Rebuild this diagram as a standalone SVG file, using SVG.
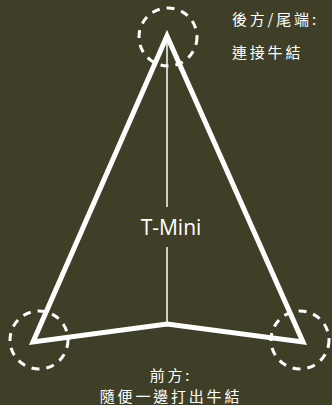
<svg xmlns="http://www.w3.org/2000/svg" width="332" height="405" viewBox="0 0 332 405">
<style>
.bg{fill:#3f3f28}
.kite{fill:none;stroke:#fff;stroke-width:5;stroke-linejoin:miter}
.spine{stroke:#fff;stroke-width:1.5}
.ring{fill:none;stroke:#fff;stroke-width:3;stroke-dasharray:8 7}
.cjk{fill:#fff;font-family:"Noto Sans CJK TC","Noto Sans CJK SC",sans-serif;font-size:15px;letter-spacing:2.8px}
.lbl{fill:#fff;font-family:"Open Sans","Noto Sans",sans-serif;font-size:21px}
</style>
<rect class="bg" width="332" height="405"/>
<g id="connectors">
<line class="spine" x1="167" y1="36" x2="167" y2="207"/>
<line class="spine" x1="167" y1="247" x2="167" y2="324"/>
</g>
<g id="kite">
<polygon class="kite" points="167,36 303,342 167,324 33,342"/>
</g>
<g id="ring-top"><circle class="ring" cx="168" cy="37" r="29"/></g>
<g id="ring-left"><circle class="ring" cx="39" cy="340" r="29"/></g>
<g id="ring-right"><circle class="ring" cx="300" cy="340" r="29"/></g>
<g id="label-center"><text class="lbl" x="171" y="235" text-anchor="middle">T-Mini</text></g>
<g id="label-back">
<text class="cjk" x="232" y="25">後方/尾端:</text>
<text class="cjk" x="232" y="58">連接牛結</text>
</g>
<g id="label-front">
<text class="cjk" x="171" y="381" text-anchor="middle">前方:</text>
<text class="cjk" x="171" y="402" text-anchor="middle">隨便一邊打出牛結</text>
</g>
</svg>
